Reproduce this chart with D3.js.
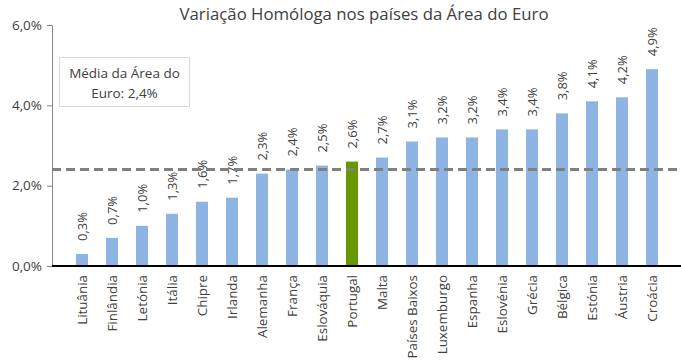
<!DOCTYPE html>
<html>
<head>
<meta charset="utf-8">
<script src="https://cdn.jsdelivr.net/npm/d3@7"></script>
<style>
  body { margin: 0; background: #fff; }
  text { font-family: "Open Sans", "Noto Sans", sans-serif; fill: #404040; }
</style>
</head>
<body>
<script>
// data
var paises = ["Lituânia", "Finlândia", "Letónia", "Itália", "Chipre", "Irlanda", "Alemanha",
    "França", "Eslováquia", "Portugal", "Malta", "Países Baixos", "Luxemburgo", "Espanha",
    "Eslovénia", "Grécia", "Bélgica", "Estónia", "Áustria", "Croácia"];
var valores = [0.3, 0.7, 1.0, 1.3, 1.6, 1.7, 2.3, 2.4, 2.5, 2.6, 2.7, 3.1, 3.2, 3.2, 3.4, 3.4, 3.8, 4.1, 4.2, 4.9];
var mediaEuro = 2.4;
var yTicks = [0, 2, 4, 6];

var w = 681, h = 364;
var fmt = function(v) { return v.toFixed(1).replace(".", ",") + "%"; };

var svg = d3.select("body").append("svg")
    .attr("width", w)
    .attr("height", h);

var xScale = d3.scaleBand()
    .domain(paises)
    .range([67, 667])
    .paddingInner(0.6)
    .paddingOuter(0.3);

var yScale = d3.scaleLinear()
    .domain([0, 6])
    .range([266, 25]);

// title
svg.append("text")
    .attr("x", 364)
    .attr("y", 20)
    .attr("text-anchor", "middle")
    .style("font-size", "16.8px")
    .text("Variação Homóloga nos países da Área do Euro");

// y axis
var yAxis = d3.axisLeft(yScale)
    .tickValues(yTicks)
    .tickFormat(fmt)
    .tickSizeInner(5)
    .tickSizeOuter(0);

var gy = svg.append("g")
    .attr("transform", "translate(52,0)")
    .call(yAxis);
gy.select(".domain").attr("stroke", "#868686");
gy.selectAll(".tick line").attr("stroke", "#868686");
gy.selectAll(".tick text")
    .attr("x", -10)
    .style("font-size", "13.5px")
    .style("font-family", "'Open Sans', sans-serif")
    .attr("fill", "#404040");

// bars
svg.selectAll("rect.bar")
    .data(valores)
    .enter()
    .append("rect")
    .attr("class", "bar")
    .attr("x", function(d, i) { return xScale(paises[i]); })
    .attr("width", xScale.bandwidth())
    .attr("y", function(d) { return yScale(d); })
    .attr("height", function(d) { return yScale(0) - yScale(d); })
    .attr("fill", function(d, i) { return paises[i] == "Portugal" ? "#669900" : "#8db4e2"; });

// value labels
svg.selectAll("text.val")
    .data(valores)
    .enter()
    .append("text")
    .attr("class", "val")
    .attr("transform", function(d, i) {
        var cx = xScale(paises[i]) + xScale.bandwidth() / 2 + 5;
        return "translate(" + cx + "," + (yScale(d) - 13) + ") rotate(-90)";
    })
    .style("font-size", "13px")
    .text(function(d) { return fmt(d); });

// x axis line
svg.append("line")
    .attr("x1", 52).attr("x2", 681)
    .attr("y1", yScale(0)).attr("y2", yScale(0))
    .attr("stroke", "#000")
    .attr("stroke-width", 2);

// category labels
svg.selectAll("text.cat")
    .data(paises)
    .enter()
    .append("text")
    .attr("class", "cat")
    .attr("text-anchor", "end")
    .attr("transform", function(d) {
        var cx = xScale(d) + xScale.bandwidth() / 2 + 5;
        return "translate(" + cx + ",275) rotate(-90)";
    })
    .style("font-size", "13.4px")
    .text(function(d) { return d; });

// euro area average
svg.append("line")
    .attr("x1", 52).attr("x2", 681)
    .attr("y1", yScale(mediaEuro)).attr("y2", yScale(mediaEuro))
    .attr("stroke", "#808080")
    .attr("stroke-width", 3)
    .attr("stroke-dasharray", "9,5");

// annotation box
svg.append("rect")
    .attr("x", 59.5).attr("y", 57.5)
    .attr("width", 130).attr("height", 49)
    .attr("fill", "#fff")
    .attr("stroke", "#d9d9d9");

svg.append("text")
    .attr("x", 124.5).attr("y", 78)
    .attr("text-anchor", "middle")
    .style("font-size", "13.5px")
    .text("Média da Área do");
svg.append("text")
    .attr("x", 124.5).attr("y", 98)
    .attr("text-anchor", "middle")
    .style("font-size", "13.5px")
    .text("Euro: " + fmt(mediaEuro));
</script>
</body>
</html>
